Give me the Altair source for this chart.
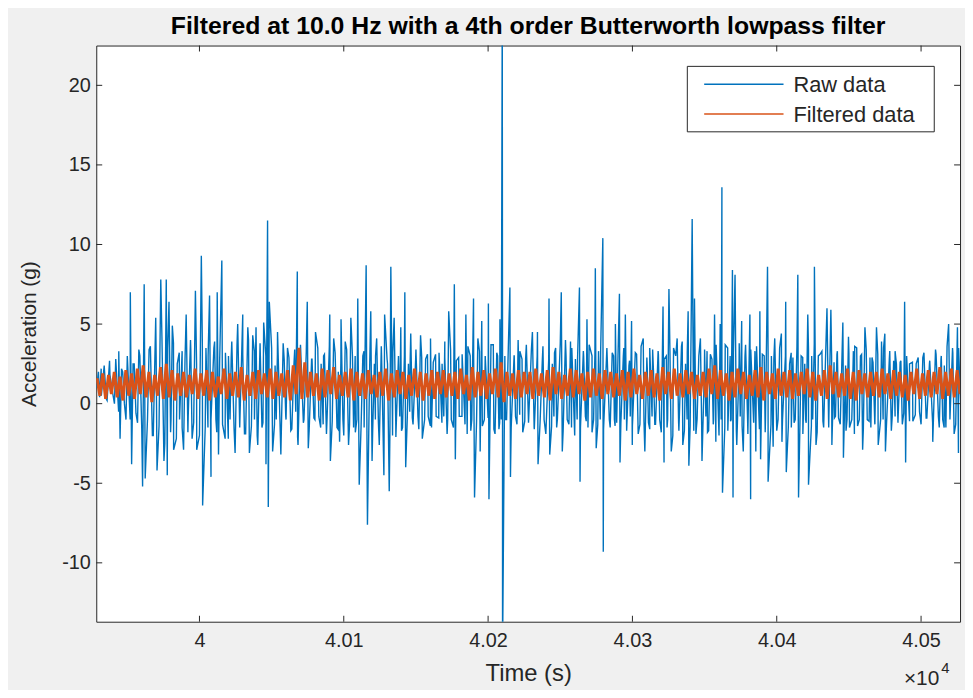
import altair as alt
import pandas as pd

# ---------------- data ----------------
seg_start = [39928.5, 40028.9, 40129.2, 40229.6, 40329.9, 40430.2]

# visible peaks and troughs of the raw signal: (seconds after segment start, acceleration g)
seg_A = [(0.3, 1.0), (2.3, 0.4), (3.4, 2.2), (6.9, 0.3), (9.2, 2.7), (12.6, 0.0), (15.6, 3.3), (16.5, -2.2),
         (18.3, 2.0), (20.6, -1.0), (23.6, 7.0), (24.5, -3.8), (26.3, 2.5), (28.6, -1.2), (30.2, 3.0),
         (32.1, -5.2), (33.2, 7.5), (33.9, -4.7), (36.6, 3.4), (38.9, -2.0), (41.2, 5.4), (42.1, -4.2),
         (44.7, 7.8), (46.9, -3.6), (48.5, 7.8), (49.2, -4.5), (50.4, 6.4), (51.8, -1.0), (52.7, 4.9),
         (53.6, -2.9), (56.1, 2.5), (57.7, -1.0), (59.5, 3.3), (60.5, -2.9), (62.3, 5.6), (63.7, -0.8),
         (65.3, 4.0), (66.4, -2.2), (68.7, 7.1), (69.6, -2.9), (72.8, 9.3), (73.7, -6.4), (76.0, 3.5),
         (77.4, -1.5), (78.5, 6.8), (79.5, -4.6), (82.0, 3.9), (82.9, -1.0), (83.8, 7.0), (84.7, -3.2),
         (87.0, 9.0), (89.3, -2.2), (91.6, 3.0), (92.7, -1.0), (93.9, 3.9), (96.2, -3.1), (98.0, 5.0),
         (99.4, -1.5)]
seg_B = [(1.1, 5.6), (2.3, -1.9), (4.6, 4.8), (5.7, -3.1), (8.0, 4.3), (9.2, -1.0), (10.3, 4.8), (11.5, -2.6),
         (13.3, 3.0), (14.4, -1.5), (15.6, 5.1), (17.2, -3.8), (18.3, 11.5), (18.8, -6.5), (19.5, 6.4),
         (21.8, -3.0), (23.5, 2.4), (24.3, -1.0), (25.2, 4.5), (27.5, -3.2), (29.8, 2.8), (30.9, -0.8),
         (32.1, 3.5), (34.4, -1.7), (36.6, 2.5), (37.8, -0.5), (38.9, 8.3), (39.4, -2.6), (41.2, 3.5),
         (43.5, -1.0), (45.8, 6.4), (46.5, -2.8), (48.8, 2.8), (50.4, -0.9), (51.5, 4.5), (53.8, -0.8),
         (55.4, 2.5), (56.8, -1.3), (57.7, 3.1), (59.5, -1.0), (61.4, 5.6), (61.8, -3.6), (64.1, 4.1),
         (66.4, -1.5), (67.3, 2.0), (68.2, -2.4), (69.2, 5.3), (70.5, -1.0), (72.1, 3.9), (74.4, -2.6),
         (76.0, 5.4), (77.9, -1.5), (79.0, 3.0), (80.2, -1.0), (80.8, 6.6), (81.8, -5.1), (84.3, 3.0),
         (85.2, -1.5), (86.6, 8.7), (87.5, -7.6), (89.8, 5.8), (90.7, -3.6), (92.3, 2.5), (93.0, -1.0),
         (93.9, 4.1), (95.7, -2.6), (97.3, 3.0), (98.9, -4.5), (99.4, 5.6)]
seg_C = [(1.1, 2.5), (2.3, -5.5), (3.4, 8.6), (4.6, -2.0), (5.7, 5.4), (6.9, -2.1), (8.7, 3.0), (9.6, -0.8),
         (10.3, 4.8), (11.5, -1.5), (13.1, 7.0), (13.7, -4.0), (15.6, 2.5), (16.5, -0.5), (17.2, 4.4),
         (18.3, -0.9), (20.6, 2.8), (22.2, -0.8), (24.0, 4.3), (25.2, -2.2), (27.5, 2.8), (29.3, -0.8),
         (30.9, 4.1), (31.6, -1.5), (34.4, 3.1), (36.6, -0.9), (38.9, 2.5), (40.1, -0.8), (40.8, 3.9),
         (42.4, -1.9), (43.5, 5.8), (45.3, -1.0), (47.4, 7.5), (48.1, -3.5), (50.4, 2.9), (52.7, -0.8),
         (55.4, 5.6), (56.3, -1.9), (58.4, 3.0), (59.5, -1.0), (60.7, 6.6), (61.4, -5.9), (63.7, 4.1),
         (65.3, -3.0), (66.4, 5.2), (68.2, -1.0), (71.0, 6.3), (71.4, -6.0), (74.4, 3.7), (75.6, -1.9),
         (77.4, 3.0), (78.3, -1.6), (79.0, 5.3), (79.9, -1.0), (80.6, 25.0), (80.8, -16.0), (82.4, 3.0),
         (83.6, -1.0), (85.9, 7.3), (86.3, -4.6), (88.9, 3.0), (89.8, -0.8), (91.6, 4.0), (92.7, -0.7),
         (94.3, 2.8), (96.2, -1.1), (97.3, 3.7), (98.9, -1.0)]
seg_D = [(1.1, 4.5), (2.3, -1.5), (4.6, 4.5), (5.0, -3.8), (8.0, 2.8), (9.2, -1.0), (12.6, 6.6), (13.1, -3.2),
         (14.9, 2.5), (16.0, -0.8), (17.2, 3.5), (17.9, -1.5), (21.1, 7.0), (21.8, -3.0), (24.0, 4.0),
         (25.2, -1.0), (27.5, 3.9), (28.2, -1.5), (30.9, 2.8), (32.1, -1.0), (33.7, 7.3), (34.1, -4.9),
         (36.6, 3.0), (37.8, -0.8), (38.9, 5.3), (39.6, -1.5), (42.4, 3.0), (43.5, -1.0), (44.7, 8.5),
         (45.3, -2.8), (46.9, 3.3), (48.1, -1.0), (49.9, 10.4), (50.2, -9.3), (52.7, 3.5), (55.0, -1.5),
         (57.3, 3.0), (57.9, -1.0), (58.6, 5.0), (59.5, -1.2), (61.4, 6.9), (61.8, -3.7), (64.1, 3.0),
         (64.8, -1.0), (65.5, 5.6), (66.4, -1.7), (68.0, 2.4), (68.9, -0.8), (69.8, 5.2), (70.3, -2.6),
         (73.3, 3.1), (75.6, -1.3), (77.9, 4.1), (79.0, -3.0), (80.7, 2.2), (81.5, -1.2), (82.4, 3.5),
         (84.0, -0.8), (85.0, 2.0), (85.9, -1.3), (88.2, 3.3), (89.3, -1.0), (91.6, 6.1), (92.3, -3.7),
         (93.9, 3.0), (94.8, -1.0), (95.7, 7.2), (97.3, -3.0), (98.9, 3.5)]
seg_E = [(1.1, 4.1), (2.3, -1.7), (4.6, 3.9), (5.0, -2.6), (6.9, 2.5), (8.0, -1.0), (8.7, 5.8), (9.2, -3.9),
         (11.5, 11.6), (12.6, -1.7), (13.1, 6.6), (14.9, -1.0), (17.2, 4.1), (18.3, -3.6), (20.0, 2.2),
         (21.0, -0.8), (21.8, 3.3), (22.9, -1.7), (25.2, 2.8), (26.3, -1.0), (27.0, 5.6), (27.9, -2.4),
         (30.9, 5.0), (31.6, -1.0), (32.1, 13.6), (32.5, -5.6), (34.4, 3.7), (36.2, -1.7), (37.8, 3.0),
         (38.5, -1.0), (39.4, 8.4), (39.8, -5.9), (41.2, 8.1), (42.4, -2.6), (44.0, 2.5), (44.8, -0.8),
         (45.8, 5.2), (46.9, -3.0), (48.5, 3.7), (49.9, -1.0), (51.5, 5.6), (52.0, -6.0), (55.0, 3.3),
         (55.6, -3.0), (58.4, 5.8), (58.9, -3.5), (61.4, 3.0), (62.3, -1.0), (63.7, 8.6), (64.1, -4.9),
         (66.4, 3.0), (67.6, -2.7), (68.7, 4.1), (71.0, -1.0), (73.3, 4.4), (73.7, -2.4), (76.3, 6.4),
         (76.7, -4.3), (79.0, 2.5), (80.2, -1.5), (81.3, 2.9), (82.9, -1.0), (84.7, 8.1), (85.2, -5.9),
         (87.0, 3.0), (88.2, -1.9), (89.5, 2.5), (90.5, -1.2), (91.6, 5.6), (92.1, -5.1), (94.3, 3.0),
         (95.0, -1.0), (96.2, 8.6), (97.3, -2.6), (98.9, 3.0)]
seg_F = [(1.1, 3.3), (2.3, -1.5), (4.6, 6.0), (5.7, -1.0), (7.3, 5.9), (8.0, -2.6), (9.5, 2.6), (10.5, -0.8),
         (11.5, 3.1), (12.6, -0.9), (15.6, 5.1), (16.0, -3.4), (17.5, 2.4), (18.5, -1.0), (19.5, 4.2),
         (20.2, -1.5), (22.9, 3.3), (23.6, -1.9), (25.2, 3.5), (27.0, -1.0), (28.6, 3.1), (29.3, -2.9),
         (30.9, 4.8), (32.5, -1.0), (34.4, 2.9), (35.0, -1.5), (36.5, 2.6), (37.7, -1.2), (38.9, 4.8),
         (40.1, -2.6), (42.4, 3.9), (43.5, -1.0), (44.7, 4.4), (45.1, -3.0), (48.1, 3.3), (49.2, -1.7),
         (50.8, 2.7), (51.8, -0.8), (52.7, 2.5), (53.8, -1.1), (55.3, 2.6), (56.8, -1.3), (58.4, 6.4),
         (59.1, -3.7), (61.8, 2.5), (64.1, -1.1), (66.4, 2.5), (68.7, -0.5), (71.0, 2.9), (73.3, -0.9),
         (75.6, 2.5), (77.9, -2.4), (80.2, 3.1), (82.4, -1.5), (83.6, 2.8), (84.8, -1.0), (85.9, 2.4),
         (87.0, -1.5), (88.9, 5.0), (89.8, -1.0), (91.6, 3.5), (92.7, -1.9), (95.0, 4.8), (95.7, -3.1),
         (96.8, 1.0)]

# dense core of the raw signal between the peaks: highs and lows every 4 s from 39930 s
core_t0 = 39930.0
core_step = 4.0
core_hi = [2.0, 2.4, 1.8, 2.8, 2.2, 3.0, 2.5, 3.4, 2.8, 3.6, 3.0, 4.2, 3.5, 3.8, 3.2,
           2.8, 3.4, 2.5, 3.8, 3.0, 3.5, 2.7, 3.2, 2.9, 3.6, 3.1, 4.0, 3.3, 3.8, 3.0,
           3.5, 3.1, 3.8, 2.9, 3.4, 3.7, 3.2, 2.8, 3.5, 3.0, 3.6, 3.2, 2.7, 3.4, 3.0,
           2.8, 3.3, 2.6, 3.0, 3.6, 2.8, 3.2, 2.5, 3.0, 2.7, 3.4, 2.9, 3.1, 2.6, 3.2,
           2.9, 3.4, 2.7, 3.1, 3.6, 2.8, 3.3, 3.0, 3.7, 3.2, 2.9, 3.5, 3.0, 3.3, 2.8,
           3.4, 3.0, 3.6, 2.8, 3.2, 3.8, 3.0, 3.5, 2.9, 3.3, 3.7, 3.1, 3.4, 2.8, 3.2,
           3.0, 3.5, 2.7, 3.2, 3.6, 2.9, 3.4, 3.1, 2.8, 3.3, 3.0, 3.6, 3.2, 3.8, 3.0,
           3.4, 3.1, 3.7, 2.9, 3.5, 3.2, 3.8, 3.0, 3.4, 3.6, 3.1, 3.3, 2.8, 3.5, 3.0,
           3.2, 3.6, 2.9, 3.4, 3.8, 3.1, 3.5, 3.0, 3.3, 2.8, 3.2, 3.6, 3.0, 3.4, 2.9,
           3.1, 3.5, 2.8, 3.3, 2.7, 3.0, 2.6, 2.9, 3.2, 2.7, 3.4, 3.0, 3.6, 3.2, 3.5]
core_lo = [0.5, 0.2, 0.6, -0.5, 0.0, -1.0, -0.6, -1.5, -1.0, -2.0, -1.4, -2.5, -1.8, -2.2, -1.5,
           -1.8, -1.2, -2.0, -1.5, -1.0, -1.8, -1.3, -2.2, -1.6, -1.1, -1.9, -1.4, -2.0, -1.2, -1.7,
           -1.3, -1.8, -1.0, -1.6, -2.1, -1.2, -1.7, -1.0, -1.5, -1.9, -1.1, -1.6, -2.0, -1.3, -1.8,
           -1.4, -1.0, -1.8, -1.2, -0.8, -1.5, -1.1, -1.7, -0.9, -1.3, -1.6, -1.0, -1.4, -0.8, -1.2,
           -1.0, -1.5, -0.8, -1.3, -1.7, -1.1, -1.4, -0.9, -1.6, -1.2, -1.0, -1.5, -1.3, -1.8, -1.2,
           -1.6, -1.2, -1.9, -1.4, -1.0, -1.7, -1.3, -2.0, -1.5, -1.1, -1.8, -1.3, -1.6, -1.0, -1.4,
           -1.2, -1.7, -1.4, -1.9, -1.1, -1.6, -1.3, -1.8, -1.5, -2.0, -1.2, -1.7, -1.4, -1.9, -1.5,
           -1.8, -1.3, -2.0, -1.5, -1.1, -1.7, -1.4, -1.9, -1.2, -1.6, -1.8, -1.3, -1.7, -1.0, -1.5,
           -1.2, -1.6, -1.0, -1.4, -1.8, -1.1, -1.5, -0.9, -1.3, -1.7, -1.0, -1.4, -1.6, -1.1, -1.3,
           -1.0, -1.4, -0.8, -1.2, -0.6, -1.1, -0.7, -1.3, -0.9, -1.2, -0.8, -1.5, -1.0, -1.3, -1.1]

# filtered data: upper and lower swings of the fast oscillation, every 4 s from 39929 s
filt_t0 = 39929.0
filt_step = 4.0
filt_hi = [1.6, 1.9, 1.8, 2.0, 1.7, 2.1, 1.9, 2.2, 2.4, 2.0, 1.8, 2.3, 2.5, 2.1, 1.9,
           2.0, 1.8, 2.2, 1.9, 2.1, 2.0, 1.7, 2.2, 1.9, 2.0, 2.3, 1.8, 2.0, 2.1, 1.9,
           2.2, 2.0, 1.9, 2.1, 2.4, 3.5, 2.6, 2.0, 1.9, 2.2, 2.1, 2.3, 1.8, 2.0, 2.2,
           2.0, 1.9, 2.1, 1.8, 2.0, 2.2, 1.9, 2.1, 2.0, 1.8, 2.2, 2.0, 1.9, 2.1, 2.0,
           2.1, 1.9, 2.0, 2.2, 1.8, 2.3, 2.0, 2.1, 1.9, 2.2, 2.6, 2.0, 1.9, 2.1, 2.0,
           2.0, 2.2, 1.9, 2.1, 2.3, 2.0, 1.8, 2.2, 2.1, 1.9, 2.0, 2.2, 1.9, 2.1, 2.0,
           1.9, 2.1, 2.0, 2.2, 1.8, 2.0, 2.1, 1.9, 2.3, 2.0, 2.2, 1.9, 2.1, 2.0, 1.8,
           2.0, 2.2, 2.4, 2.1, 1.9, 2.0, 2.2, 2.0, 1.8, 2.1, 2.3, 2.0, 1.9, 2.2, 2.0,
           2.1, 1.9, 2.0, 2.2, 2.0, 1.8, 2.1, 2.4, 2.0, 1.9, 2.2, 2.0, 2.1, 1.9, 2.0,
           2.0, 2.2, 1.9, 2.1, 2.0, 1.8, 2.0, 2.2, 1.9, 2.1, 2.0, 2.3, 2.0, 2.2, 2.1]
filt_lo = [0.5, 0.3, 0.6, 0.4, 0.2, 0.5, 0.3, 0.6, 0.4, 0.1, 0.5, 0.3, 0.4, 0.2, 0.5,
           0.4, 0.6, 0.3, 0.5, 0.2, 0.4, 0.6, 0.3, 0.5, 0.4, 0.2, 0.5, 0.3, 0.6, 0.4,
           0.3, 0.5, 0.4, 0.2, 0.6, 0.3, 0.4, 0.5, 0.2, 0.4, 0.6, 0.3, 0.5, 0.4, 0.2,
           0.5, 0.3, 0.6, 0.4, 0.5, 0.2, 0.4, 0.6, 0.3, 0.5, 0.4, 0.2, 0.5, 0.3, 0.6,
           0.4, 0.5, 0.3, 0.6, 0.2, 0.4, 0.5, 0.3, 0.6, 0.4, 0.1, 0.5, 0.3, 0.4, 0.6,
           0.3, 0.5, 0.4, 0.2, 0.6, 0.3, 0.5, 0.4, 0.6, 0.2, 0.4, 0.5, 0.3, 0.6, 0.4,
           0.5, 0.2, 0.4, 0.6, 0.3, 0.5, 0.4, 0.2, 0.6, 0.3, 0.5, 0.4, 0.6, 0.3, 0.5,
           0.4, 0.6, 0.3, 0.5, 0.2, 0.4, 0.6, 0.3, 0.5, 0.4, 0.2, 0.6, 0.3, 0.5, 0.4,
           0.3, 0.5, 0.6, 0.4, 0.2, 0.5, 0.3, 0.6, 0.4, 0.5, 0.3, 0.2, 0.6, 0.4, 0.5,
           0.4, 0.6, 0.3, 0.5, 0.4, 0.2, 0.6, 0.3, 0.5, 0.4, 0.6, 0.3, 0.5, 0.4, 0.6]

series_names = ["Raw data", "Filtered data"]
series_colors = ["#0072BD", "#D95319"]
x_ticks = [40000, 40100, 40200, 40300, 40400, 40500]
y_ticks = [-10, -5, 0, 5, 10, 15, 20]
x_domain = [39928.5, 40527.0]
y_domain = [-13.7, 22.5]
exp_text = ["\u00d710", "4"]
title_text = "Filtered at 10.0 Hz with a 4th order Butterworth lowpass filter"

# ---------------- tables ----------------
raw_rows = []
for start, seg in zip(seg_start, [seg_A, seg_B, seg_C, seg_D, seg_E, seg_F]):
    for off, val in seg:
        raw_rows.append({"t": start + off, "v": val, "series": series_names[0]})
for i, (hi, lo) in enumerate(zip(core_hi, core_lo)):
    raw_rows.append({"t": core_t0 + core_step * i, "v": hi, "series": series_names[0]})
    raw_rows.append({"t": core_t0 + core_step * i + core_step / 2, "v": lo, "series": series_names[0]})
raw_df = pd.DataFrame(raw_rows).sort_values("t").reset_index(drop=True)

filt_rows = []
for i, (hi, lo) in enumerate(zip(filt_hi, filt_lo)):
    filt_rows.append({"t": filt_t0 + filt_step * i, "v": hi, "series": series_names[1]})
    filt_rows.append({"t": filt_t0 + filt_step * i + filt_step / 2, "v": lo, "series": series_names[1]})
filt_df = pd.DataFrame(filt_rows)

FONT = "Liberation Sans"
INK = "#262626"
W, H = 871, 581

xscale = alt.Scale(domain=x_domain, nice=False, zero=False)
yscale = alt.Scale(domain=y_domain, nice=False, zero=False)
xaxis = alt.Axis(values=x_ticks, labelExpr="format(datum.value / 10000, '.2~f')", grid=False,
                 ticks=False, domain=False, labelPadding=9, labelFontSize=20,
                 title="Time (s)", titlePadding=11, titleFontSize=24)
yaxis = alt.Axis(values=y_ticks, labelExpr="'' + datum.value", grid=False, ticks=False, domain=False,
                 labelPadding=6, labelFontSize=20, title="Acceleration (g)", titlePadding=22,
                 titleFontSize=21)
color = alt.Color("series:N", scale=alt.Scale(domain=series_names, range=series_colors), legend=None)


def X():
    return alt.X("t:Q", scale=xscale, axis=xaxis)


def Y():
    return alt.Y("v:Q", scale=yscale, axis=yaxis)


raw = alt.Chart(raw_df).mark_line(strokeWidth=1.4, clip=True).encode(x=X(), y=Y(), color=color)
filt = alt.Chart(filt_df).mark_line(strokeWidth=3, clip=True).encode(x=X(), y=Y(), color=color)

xt = pd.DataFrame({"t": x_ticks})
yt = pd.DataFrame({"v": y_ticks})
tick_b = alt.Chart(xt).mark_rule(color=INK).encode(x=X(), y=alt.value(H), y2=alt.value(H - 6))
tick_t = alt.Chart(xt).mark_rule(color=INK).encode(x=X(), y=alt.value(0), y2=alt.value(6))
tick_l = alt.Chart(yt).mark_rule(color=INK).encode(y=Y(), x=alt.value(0), x2=alt.value(6))
tick_r = alt.Chart(yt).mark_rule(color=INK).encode(y=Y(), x=alt.value(W), x2=alt.value(W - 6))

# x10^4 multiplier
exp1 = alt.Chart(pd.DataFrame({"s": [exp_text[0]]})).mark_text(
    align="right", baseline="alphabetic", fontSize=21, font=FONT, color=INK
).encode(text="s:N", x=alt.value(W - 21), y=alt.value(H + 64))
exp2 = alt.Chart(pd.DataFrame({"s": [exp_text[1]]})).mark_text(
    align="left", baseline="alphabetic", fontSize=15, font=FONT, color=INK
).encode(text="s:N", x=alt.value(W - 19), y=alt.value(H + 52))

# legend box drawn in the upper right corner
one = pd.DataFrame({"k": [0]})
leg_box = alt.Chart(one).mark_rect(fill="#ffffff", stroke=INK, strokeWidth=1).encode(
    x=alt.value(596), x2=alt.value(845), y=alt.value(21), y2=alt.value(87))
leg_lines = []
leg_texts = []
for i, (name, col) in enumerate(zip(series_names, series_colors)):
    yy = 39 + 30 * i
    leg_lines.append(alt.Chart(one).mark_rule(color=col, strokeWidth=1.5).encode(
        x=alt.value(613), x2=alt.value(693), y=alt.value(yy)))
    leg_texts.append(alt.Chart(pd.DataFrame({"s": [name]})).mark_text(
        align="left", baseline="middle", fontSize=22, font=FONT, color=INK
    ).encode(text="s:N", x=alt.value(703), y=alt.value(yy + 1)))

chart = alt.layer(raw, filt, tick_b, tick_t, tick_l, tick_r, exp1, exp2, leg_box,
                  *leg_lines, *leg_texts).properties(
    width=W, height=H,
    title=alt.TitleParams(title_text, fontSize=25, font=FONT, fontWeight="bold", color="#000000",
                          anchor="middle", offset=6),
    background="#f0f0f0",
    padding={"left": 89, "top": 35, "right": 5, "bottom": 66},
    autosize=alt.AutoSizeParams(type="none"),
).configure_view(
    stroke=INK, strokeWidth=1, fill="#ffffff"
).configure_axis(
    labelFont=FONT, labelColor=INK, titleFont=FONT, titleFontWeight="normal", titleColor=INK
)

chart.save("out.html", embed_options={"renderer": "svg", "actions": False})
